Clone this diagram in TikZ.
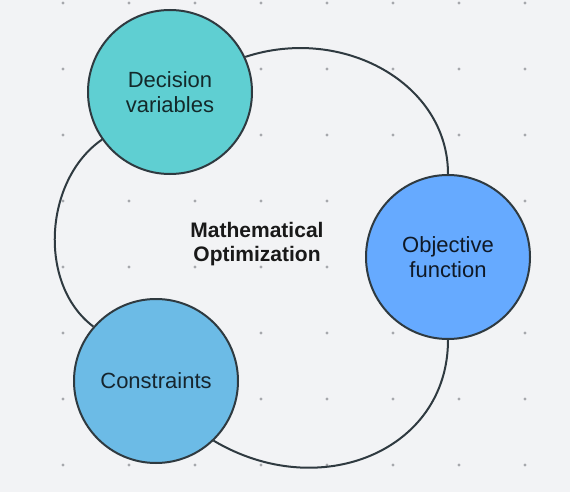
\documentclass[tikz,border=0pt]{standalone}
\usepackage{fontspec}
\setmainfont{Liberation Sans}
\usepackage{tikz}
\usetikzlibrary{backgrounds}
\definecolor{paper}{HTML}{F2F3F5}
\definecolor{rim}{HTML}{2F3A40}
\definecolor{grain}{HTML}{A6A8AC}
\definecolor{teal}{HTML}{5FCFD2}
\definecolor{azure}{HTML}{66AAFF}
\definecolor{sky}{HTML}{6CBBE6}
\newcommand{\rimcolor}{rim}
\newcommand{\rimwidth}{2pt}
\newcommand{\dotsize}{1.6pt}
\newcommand{\bigfont}{\fontsize{22}{25}\selectfont}
\newcommand{\boldfont}{\fontsize{21}{24}\selectfont\bfseries}

\begin{document}
\begin{tikzpicture}[x=1pt, y=-1pt,
  bubble/.style={circle, draw=\rimcolor, line width=\rimwidth, minimum size=164pt, inner sep=0pt, align=center, font=\bigfont}]
\useasboundingbox (0, 0) rectangle (570, 492);
\node[bubble, fill=teal, text=teal!20!black] (1) at (170, 92) {Decision\\variables};
\node[bubble, fill=azure, text=azure!15!black] (2) at (448, 257) {Objective\\function};
\node[bubble, fill=sky, text=sky!20!black] (3) at (156, 381) {Constraints};
\node[align=center, font=\boldfont, text=black!90] (0) at (257, 244) {Mathematical\\Optimization};
%paper
\begin{scope}[on background layer]
\fill[paper] (0, 0) rectangle (570, 492);
\fill[grain] (63, 3) circle (\dotsize) (129, 3) circle (\dotsize) (195, 3) circle (\dotsize) (261, 3) circle (\dotsize) (327, 3) circle (\dotsize) (393, 3) circle (\dotsize) (459, 3) circle (\dotsize) (525, 3) circle (\dotsize);
\fill[grain] (63, 69) circle (\dotsize) (129, 69) circle (\dotsize) (195, 69) circle (\dotsize) (261, 69) circle (\dotsize) (327, 69) circle (\dotsize) (393, 69) circle (\dotsize) (459, 69) circle (\dotsize) (525, 69) circle (\dotsize);
\fill[grain] (63, 135) circle (\dotsize) (129, 135) circle (\dotsize) (195, 135) circle (\dotsize) (261, 135) circle (\dotsize) (327, 135) circle (\dotsize) (393, 135) circle (\dotsize) (459, 135) circle (\dotsize) (525, 135) circle (\dotsize);
\fill[grain] (63, 201) circle (\dotsize) (129, 201) circle (\dotsize) (195, 201) circle (\dotsize) (261, 201) circle (\dotsize) (327, 201) circle (\dotsize) (393, 201) circle (\dotsize) (459, 201) circle (\dotsize) (525, 201) circle (\dotsize);
\fill[grain] (63, 267) circle (\dotsize) (129, 267) circle (\dotsize) (195, 267) circle (\dotsize) (261, 267) circle (\dotsize) (327, 267) circle (\dotsize) (393, 267) circle (\dotsize) (459, 267) circle (\dotsize) (525, 267) circle (\dotsize);
\fill[grain] (63, 333) circle (\dotsize) (129, 333) circle (\dotsize) (195, 333) circle (\dotsize) (261, 333) circle (\dotsize) (327, 333) circle (\dotsize) (393, 333) circle (\dotsize) (459, 333) circle (\dotsize) (525, 333) circle (\dotsize);
\fill[grain] (63, 399) circle (\dotsize) (129, 399) circle (\dotsize) (195, 399) circle (\dotsize) (261, 399) circle (\dotsize) (327, 399) circle (\dotsize) (393, 399) circle (\dotsize) (459, 399) circle (\dotsize) (525, 399) circle (\dotsize);
\fill[grain] (63, 465) circle (\dotsize) (129, 465) circle (\dotsize) (195, 465) circle (\dotsize) (261, 465) circle (\dotsize) (327, 465) circle (\dotsize) (393, 465) circle (\dotsize) (459, 465) circle (\dotsize) (525, 465) circle (\dotsize);
\end{scope}
%123
\begin{scope}[on background layer]
\draw[\rimcolor] [line width = \rimwidth] (1.25) .. controls +(97, -32) and +(0, -91) .. (2.north);
\draw[\rimcolor] [line width = \rimwidth] (2.south) .. controls +(0, 111) and +(106, 63) .. (3.314);
\draw[\rimcolor] [line width = \rimwidth] (1.215) .. controls +(-58, 40) and +(-56, -42) .. (3.139);
\end{scope}
\end{tikzpicture}
\end{document}
